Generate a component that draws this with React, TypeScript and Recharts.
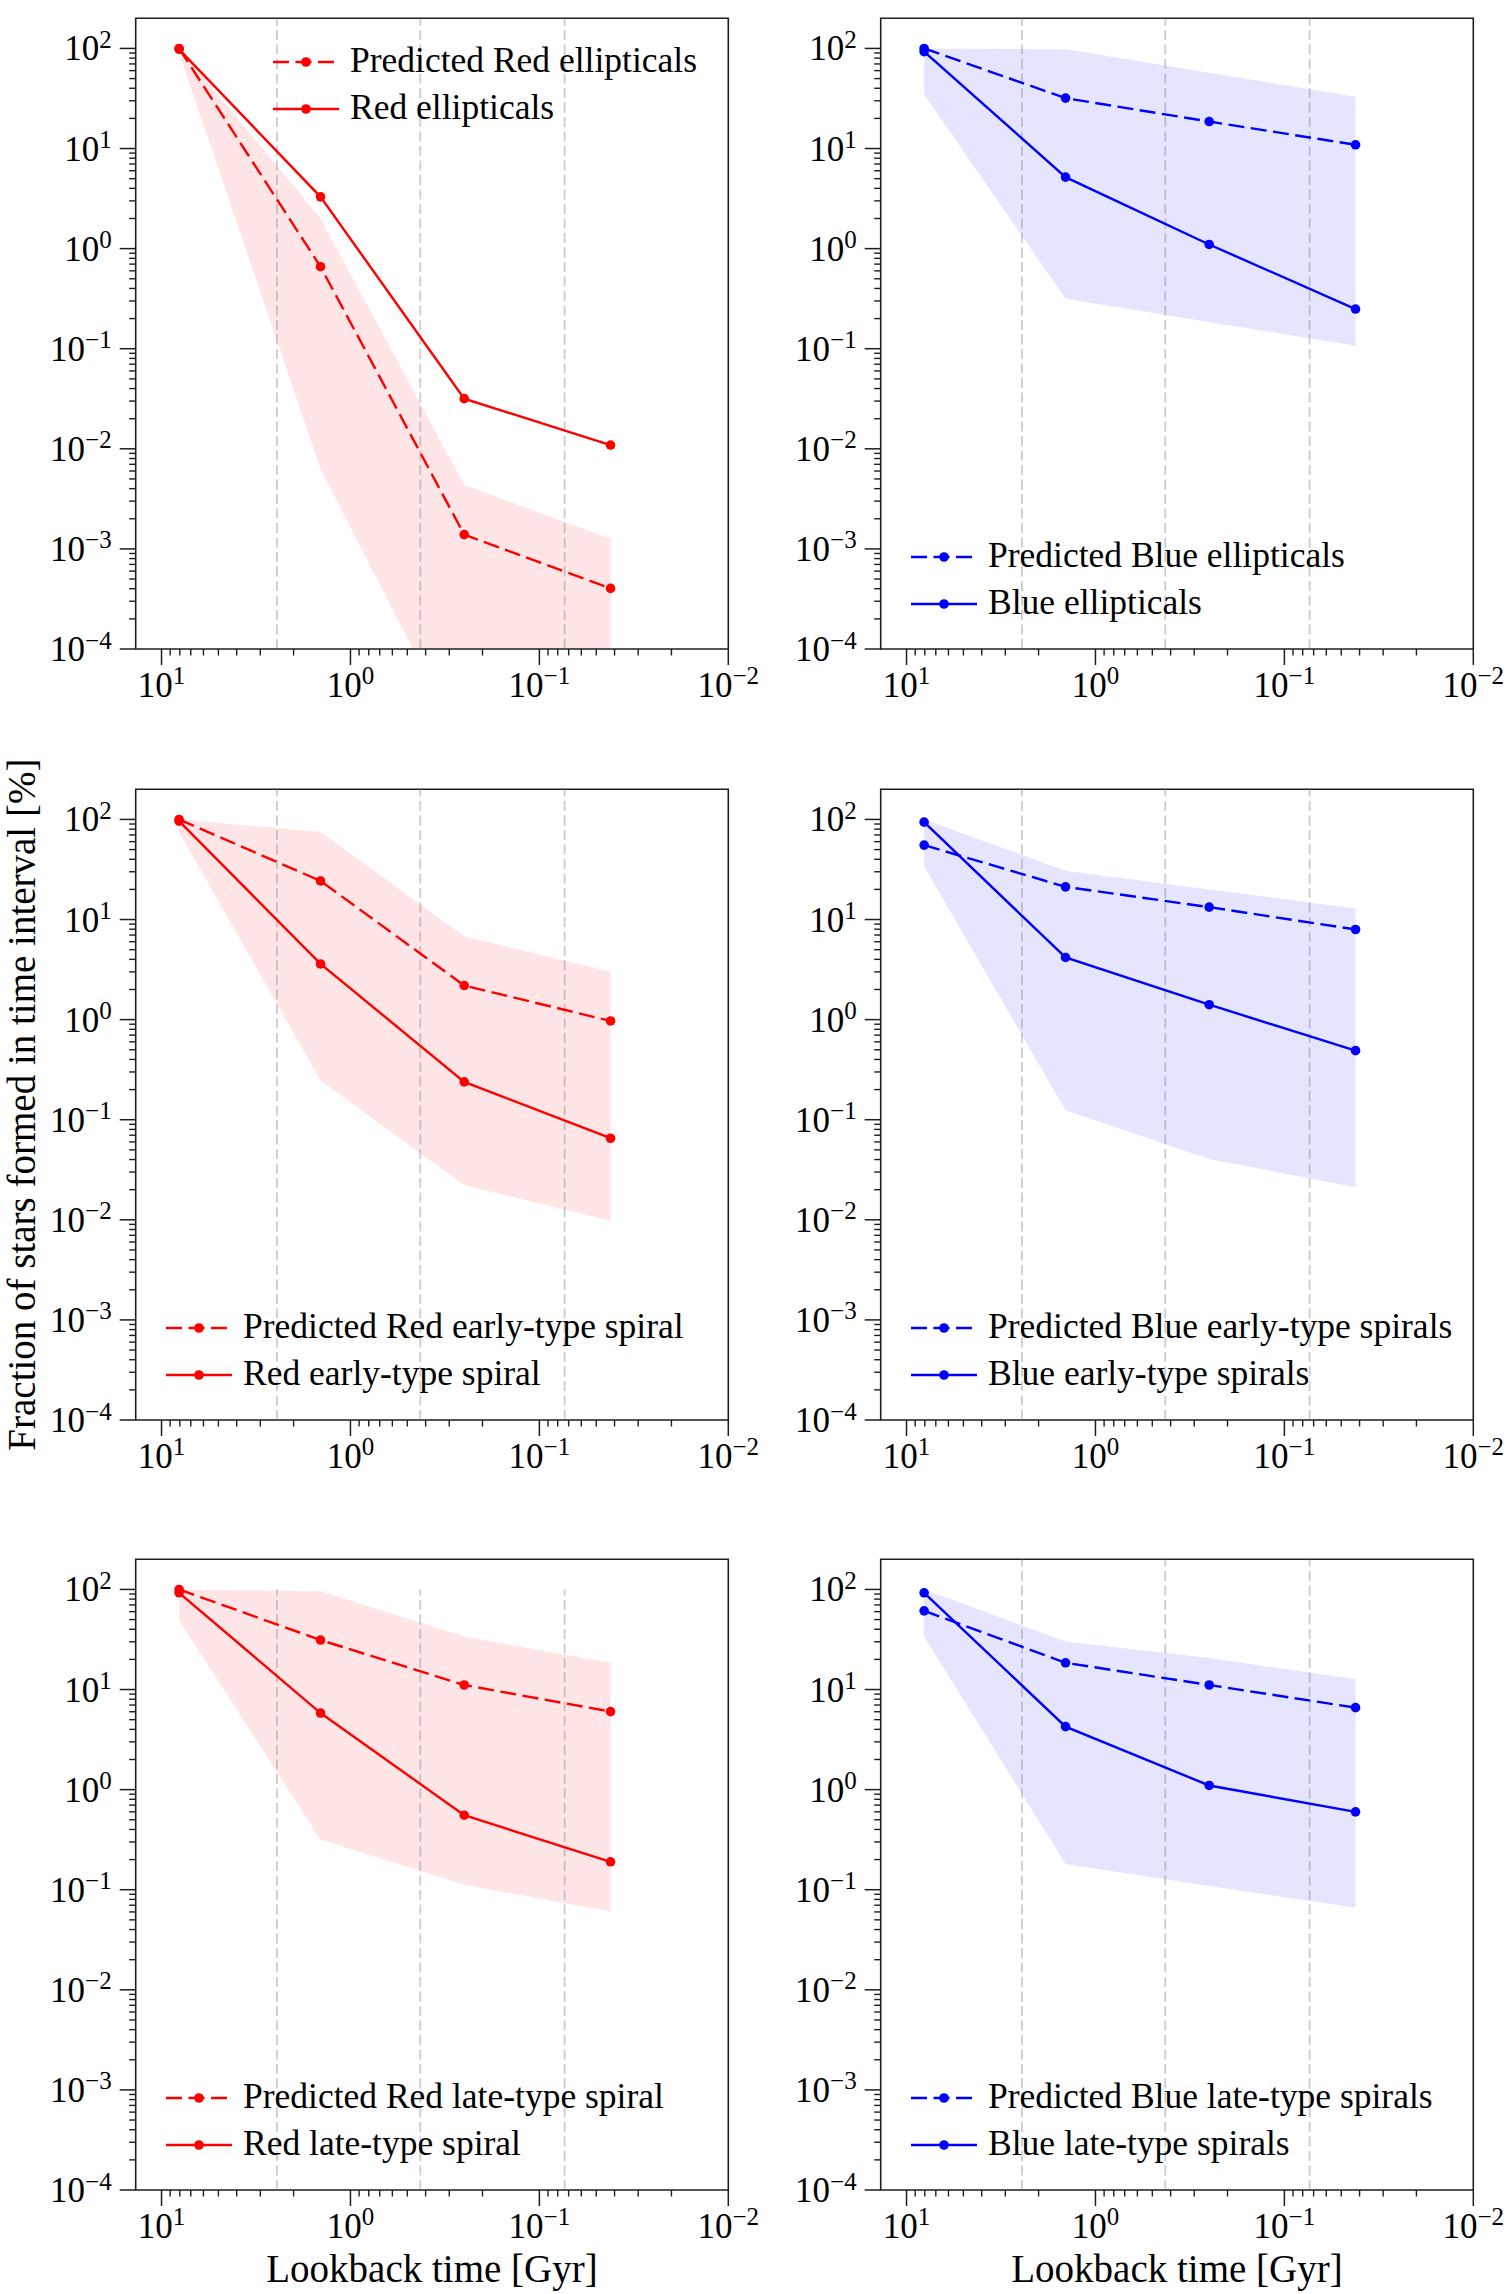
import { ComposedChart, Area, Line, XAxis, YAxis, ReferenceLine, ReferenceArea, Legend } from 'recharts'

// lookback-time bin midpoints [Gyr], shared by every panel
const LOOKBACK = [8.07, 1.44, 0.25, 0.042]
// bin edges, drawn as grey dashed guides
const BIN_EDGES = [2.45, 0.427, 0.0735]

const X_MAJOR = [10, 1, 0.1, 0.01]
const X_EXP = ['1', '0', '\u22121', '\u22122']
const Y_MAJOR = [100, 10, 1, 0.1, 0.01, 0.001, 0.0001]
const Y_EXP = ['2', '1', '0', '\u22121', '\u22122', '\u22123', '\u22124']
const MINOR = [2, 3, 4, 5, 6, 7, 8, 9]

// red ellipticals
const RED_ELL_PRED = [100, 0.66, 0.00139, 0.000403]
const RED_ELL_OBS = [98, 3.29, 0.0317, 0.0109]
const RED_ELL_HI = [100, 2.0, 0.00434, 0.00126]
const RED_ELL_LO = [90, 0.0063, 0.00001, 0.000005]

// blue ellipticals
const BLUE_ELL_PRED = [100, 31.9, 18.6, 10.9]
const BLUE_ELL_OBS = [92.9, 5.18, 1.1, 0.249]
const BLUE_ELL_HI = [100, 98, 57, 33]
const BLUE_ELL_LO = [34.7, 0.315, 0.185, 0.107]

// red early-type spirals
const RED_ETS_PRED = [100, 24.3, 2.19, 0.97]
const RED_ETS_OBS = [96, 3.6, 0.239, 0.0653]
const RED_ETS_HI = [100, 75, 6.8, 3.0]
const RED_ETS_LO = [75, 0.247, 0.0222, 0.0098]

// blue early-type spirals
const BLUE_ETS_PRED = [55.4, 21.2, 13.3, 7.95]
const BLUE_ETS_OBS = [93.9, 4.18, 1.41, 0.49]
const BLUE_ETS_HI = [100, 30.7, 20, 12.9]
const BLUE_ETS_LO = [34, 0.124, 0.0406, 0.0211]

// red late-type spirals
const RED_LTS_PRED = [100, 31.2, 11.1, 6.02]
const RED_LTS_OBS = [92.5, 5.82, 0.555, 0.19]
const RED_LTS_HI = [100, 95.7, 33.8, 18.5]
const RED_LTS_LO = [48.9, 0.317, 0.112, 0.0605]

// blue late-type spirals
const BLUE_LTS_PRED = [61.1, 18.5, 11.1, 6.59]
const BLUE_LTS_OBS = [92.5, 4.26, 1.1, 0.6]
const BLUE_LTS_HI = [100, 30.2, 20.6, 12.7]
const BLUE_LTS_LO = [33.8, 0.181, 0.109, 0.066]

const RED = '#ff0000'
const BLUE = '#0000ff'
const INK = '#1e1e1e'
const FONT = '"Liberation Serif", "DejaVu Serif", serif'
const DASH = '16 6.5'

const X_DOMAIN = [0.01, 13.7]
const Y_DOMAIN = [0.0001, 200]

const X_TICKS = [...X_MAJOR, ...[1, 0.1, 0.01].flatMap(d => MINOR.map(m => m * d))]
const Y_TICKS = [...Y_MAJOR, ...[10, 1, 0.1, 0.01, 0.001, 0.0001].flatMap(d => MINOR.map(m => m * d))]

// figure geometry
const COL_STEP = 745
const ROW_STEP = 770.5
const CHART_W = 761
const CHART_H = 770
const PLOT_LEFT = 135.7
const PLOT_TOP = 18.3
const PLOT_W = 592.6
const PLOT_H = 630.7
const X_AXIS_H = 60

interface Panel {
  pred: number[]
  obs: number[]
  hi: number[]
  lo: number[]
  color: string
  predName: string
  obsName: string
  legend: 'upper' | 'lower'
  guideTop: number
}

const PANELS: Panel[] = [
  { pred: RED_ELL_PRED, obs: RED_ELL_OBS, hi: RED_ELL_HI, lo: RED_ELL_LO, color: RED,
    predName: 'Predicted Red ellipticals', obsName: 'Red ellipticals', legend: 'upper', guideTop: 200 },
  { pred: BLUE_ELL_PRED, obs: BLUE_ELL_OBS, hi: BLUE_ELL_HI, lo: BLUE_ELL_LO, color: BLUE,
    predName: 'Predicted Blue ellipticals', obsName: 'Blue ellipticals', legend: 'lower', guideTop: 200 },
  { pred: RED_ETS_PRED, obs: RED_ETS_OBS, hi: RED_ETS_HI, lo: RED_ETS_LO, color: RED,
    predName: 'Predicted Red early-type spiral', obsName: 'Red early-type spiral', legend: 'lower', guideTop: 200 },
  { pred: BLUE_ETS_PRED, obs: BLUE_ETS_OBS, hi: BLUE_ETS_HI, lo: BLUE_ETS_LO, color: BLUE,
    predName: 'Predicted Blue early-type spirals', obsName: 'Blue early-type spirals', legend: 'lower', guideTop: 200 },
  { pred: RED_LTS_PRED, obs: RED_LTS_OBS, hi: RED_LTS_HI, lo: RED_LTS_LO, color: RED,
    predName: 'Predicted Red late-type spiral', obsName: 'Red late-type spiral', legend: 'lower', guideTop: 100 },
  { pred: BLUE_LTS_PRED, obs: BLUE_LTS_OBS, hi: BLUE_LTS_HI, lo: BLUE_LTS_LO, color: BLUE,
    predName: 'Predicted Blue late-type spirals', obsName: 'Blue late-type spirals', legend: 'lower', guideTop: 200 },
]

function XTick({ x, y, payload }: any) {
  const k = X_MAJOR.indexOf(payload.value)
  if (k < 0) return <line x1={x} x2={x} y1={y} y2={y + 6.5} stroke={INK} strokeWidth={1.4} />
  return (
    <g>
      <line x1={x} x2={x} y1={y} y2={y + 16} stroke={INK} strokeWidth={1.5} />
      <text x={x} y={y + 47.7} textAnchor="middle" fontFamily={FONT} fontSize={35} fill="#000">
        10<tspan dy={-12.5} fontSize={25}>{X_EXP[k]}</tspan>
      </text>
    </g>
  )
}

function YTick({ x, y, payload }: any) {
  const k = Y_MAJOR.indexOf(payload.value)
  if (k < 0) return <line x1={x - 6.5} x2={x} y1={y} y2={y} stroke={INK} strokeWidth={1.4} />
  return (
    <g>
      <line x1={x - 16} x2={x} y1={y} y2={y} stroke={INK} strokeWidth={1.5} />
      <text x={x - 24} y={y + 12} textAnchor="end" fontFamily={FONT} fontSize={35} fill="#000">
        10<tspan dy={-12.5} fontSize={25}>{Y_EXP[k]}</tspan>
      </text>
    </g>
  )
}

function XTitle({ viewBox }: any) {
  return (
    <text x={viewBox.x + viewBox.width / 2} y={viewBox.y + 92} textAnchor="middle"
      fontFamily={FONT} fontSize={39} fill="#000">
      Lookback time [Gyr]
    </text>
  )
}

function YTitle({ viewBox }: any) {
  const cy = viewBox.y + viewBox.height / 2
  return (
    <text x={35} y={cy} transform={`rotate(-90, 35, ${cy})`} textAnchor="middle"
      fontFamily={FONT} fontSize={39} fill="#000">
      Fraction of stars formed in time interval [%]
    </text>
  )
}

function LegendBox({ p }: { p: Panel }) {
  const rows = [
    { name: p.predName, dash: DASH },
    { name: p.obsName, dash: undefined },
  ]
  return (
    <svg width={560} height={100} style={{ display: 'block' }}>
      {rows.map((r, i) => {
        const cy = 25 + i * 47
        return (
          <g key={r.name}>
            <line x1={0} x2={66} y1={cy} y2={cy} stroke={p.color} strokeWidth={2.4} strokeDasharray={r.dash} />
            <circle cx={33} cy={cy} r={4.8} fill={p.color} />
            <text x={77} y={cy + 10} fontFamily={FONT} fontSize={35.5} fill="#000">{r.name}</text>
          </g>
        )
      })}
    </svg>
  )
}

function PanelChart({ p, row, col }: { p: Panel; row: number; col: number }) {
  const data = LOOKBACK.map((t, i) => ({ t, pred: p.pred[i], obs: p.obs[i], band: [p.lo[i], p.hi[i]] }))
  const legendLeft = p.legend === 'upper' ? PLOT_LEFT + 137.3 : PLOT_LEFT + 29.8
  const legendTop = p.legend === 'upper' ? PLOT_TOP + 43.6 - 25 : PLOT_TOP + PLOT_H - 92 - 25
  const dot = { r: 4.8, fill: p.color, stroke: 'none' }

  return (
    <ComposedChart
      width={CHART_W}
      height={CHART_H}
      data={data}
      margin={{ top: PLOT_TOP, right: CHART_W - PLOT_LEFT - PLOT_W, bottom: CHART_H - PLOT_TOP - PLOT_H - X_AXIS_H, left: 0 }}
    >
      <XAxis
        dataKey="t"
        type="number"
        scale="log"
        domain={X_DOMAIN}
        reversed
        allowDataOverflow
        ticks={X_TICKS}
        interval={0}
        tick={<XTick />}
        tickSize={0}
        tickMargin={0}
        tickLine={false}
        axisLine={false}
        height={X_AXIS_H}
        label={row === 2 ? { value: 'Lookback time [Gyr]', content: XTitle } : undefined}
      />
      <YAxis
        type="number"
        scale="log"
        domain={Y_DOMAIN}
        allowDataOverflow
        ticks={Y_TICKS}
        interval={0}
        tick={<YTick />}
        tickSize={0}
        tickMargin={0}
        tickLine={false}
        axisLine={false}
        width={PLOT_LEFT}
        label={row === 1 && col === 0 ? { value: 'Fraction of stars formed in time interval [%]', content: YTitle } : undefined}
      />
      <Area
        dataKey="band"
        type="linear"
        fill={p.color}
        fillOpacity={0.1}
        stroke="none"
        legendType="none"
        isAnimationActive={false}
      />
      {BIN_EDGES.map(e => (
        <ReferenceLine
          key={e}
          segment={[{ x: e, y: Y_DOMAIN[0] }, { x: e, y: p.guideTop }]}
          stroke="#808080"
          strokeOpacity={0.4}
          strokeWidth={1.8}
          strokeDasharray="10 4.5"
        />
      ))}
      <Line
        dataKey="pred"
        name={p.predName}
        type="linear"
        stroke={p.color}
        strokeWidth={2.4}
        strokeDasharray={DASH}
        dot={dot}
        activeDot={false}
        isAnimationActive={false}
      />
      <Line
        dataKey="obs"
        name={p.obsName}
        type="linear"
        stroke={p.color}
        strokeWidth={2.4}
        dot={dot}
        activeDot={false}
        isAnimationActive={false}
      />
      <ReferenceArea
        x1={X_DOMAIN[1]}
        x2={X_DOMAIN[0]}
        y1={Y_DOMAIN[0]}
        y2={Y_DOMAIN[1]}
        fill="none"
        stroke={INK}
        strokeWidth={1.6}
        ifOverflow="visible"
      />
      <Legend
        layout="vertical"
        align="center"
        verticalAlign="middle"
        wrapperStyle={{ left: legendLeft, top: legendTop, width: 560, height: 100 }}
        content={() => <LegendBox p={p} />}
      />
    </ComposedChart>
  )
}

export default function App() {
  return (
    <div style={{ position: 'relative', width: 1506, height: 2294, background: '#fff', fontFamily: FONT, overflow: 'hidden' }}>
      <style>{'body{margin:0} .recharts-surface{overflow:visible}'}</style>
      {PANELS.map((p, i) => {
        const row = Math.floor(i / 2)
        const col = i % 2
        return (
          <div key={i} style={{ position: 'absolute', left: col * COL_STEP, top: row * ROW_STEP }}>
            <PanelChart p={p} row={row} col={col} />
          </div>
        )
      })}
    </div>
  )
}
